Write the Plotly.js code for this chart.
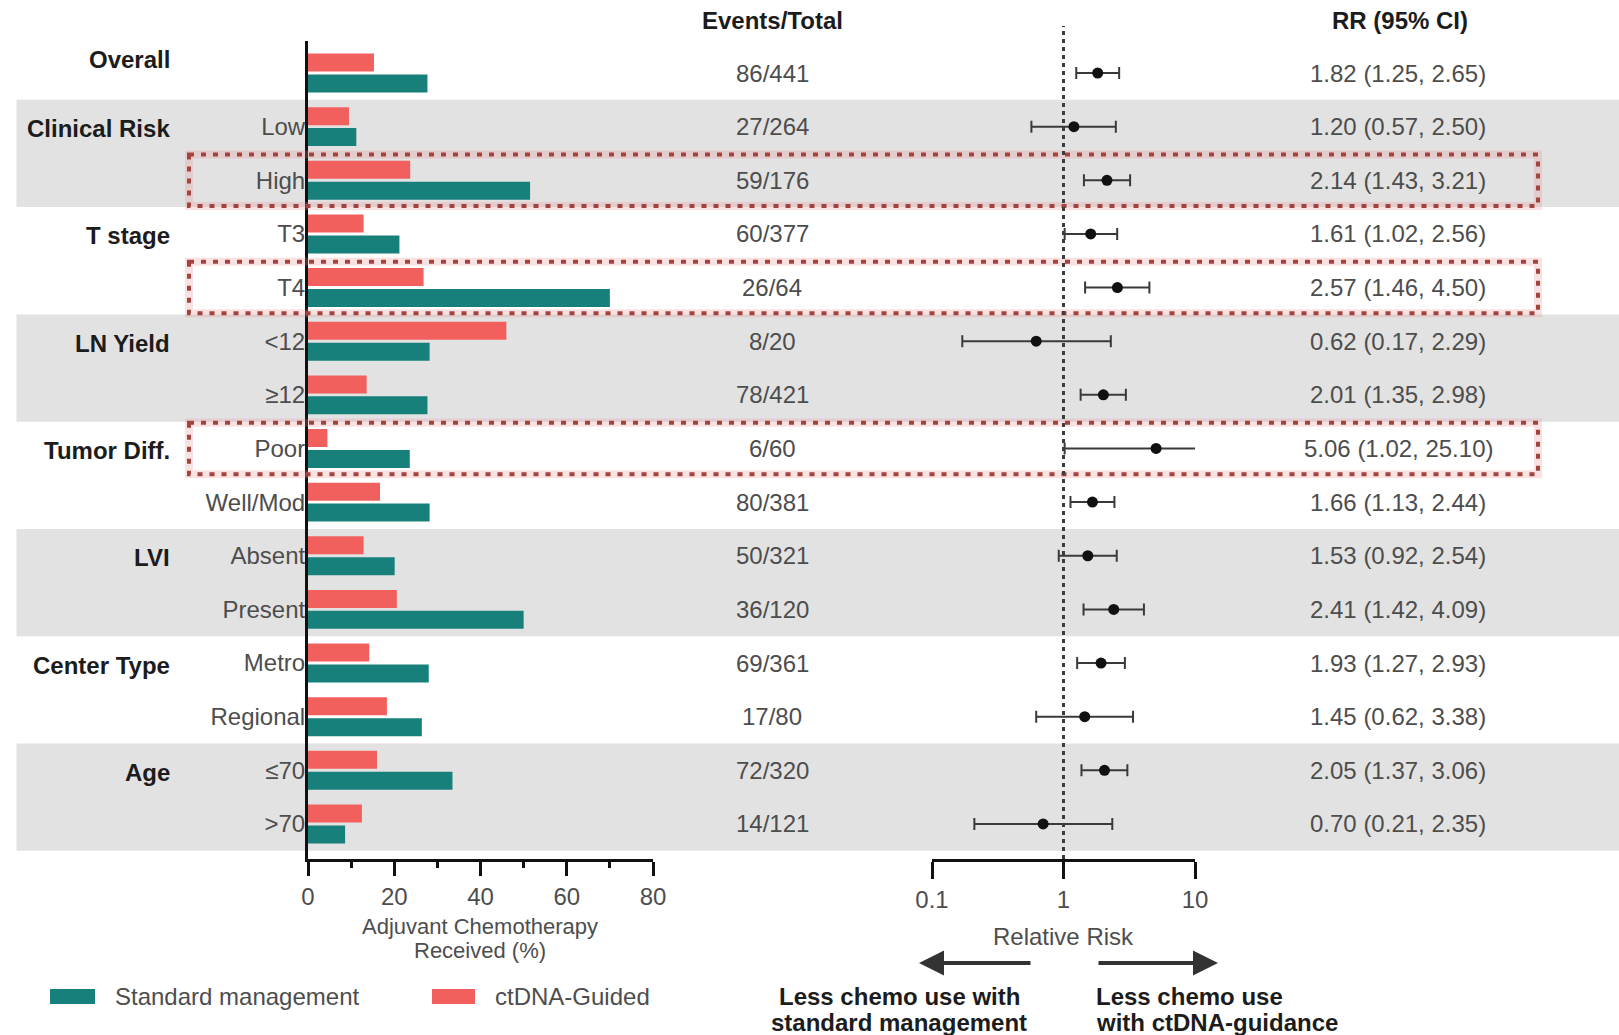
<!DOCTYPE html>
<html>
<head>
<meta charset="utf-8">
<script src="https://cdn.plot.ly/plotly-3.0.1.min.js"></script>
<style>
  html, body { margin: 0; padding: 0; background: #ffffff; }
  #chart { width: 1619px; height: 1035px; }
</style>
</head>
<body>
<div id="chart"></div>
<script>
// ---- data -------------------------------------------------------------
const subgroupLabels = ['', 'Low', 'High', 'T3', 'T4', '<12', '≥12', 'Poor', 'Well/Mod',
  'Absent', 'Present', 'Metro', 'Regional', '≤70', '>70'];
const groupLabels = ['Overall', 'Clinical Risk', 'T stage', 'LN Yield', 'Tumor Diff.', 'LVI', 'Center Type', 'Age'];
const groupFirstRow = [0, 1, 3, 5, 7, 9, 11, 13];
const shadedGroupRows = [1, 5, 9, 13];       // first row of each two-row grey band
const highlightedRows = [2, 4, 7];           // High, T4, Poor

// Adjuvant chemotherapy received (%)
const ctdnaGuidedPct = [15.3, 9.5, 23.7, 12.9, 26.8, 46.0, 13.6, 4.5, 16.7, 12.9, 20.6, 14.2, 18.3, 16.0, 12.5];
const standardMgmtPct = [27.7, 11.2, 51.5, 21.2, 70.0, 28.2, 27.7, 23.6, 28.2, 20.1, 50.0, 28.0, 26.4, 33.5, 8.6];

// Events / total
const events = [86, 27, 59, 60, 26, 8, 78, 6, 80, 50, 36, 69, 17, 72, 14];
const totals = [441, 264, 176, 377, 64, 20, 421, 60, 381, 321, 120, 361, 80, 320, 121];

// Relative risk with 95% CI
const rr     = [1.82, 1.20, 2.14, 1.61, 2.57, 0.62, 2.01, 5.06, 1.66, 1.53, 2.41, 1.93, 1.45, 2.05, 0.70];
const ciLow  = [1.25, 0.57, 1.43, 1.02, 1.46, 0.17, 1.35, 1.02, 1.13, 0.92, 1.42, 1.27, 0.62, 1.37, 0.21];
const ciHigh = [2.65, 2.50, 3.21, 2.56, 4.50, 2.29, 2.98, 25.10, 2.44, 2.54, 4.09, 2.93, 3.38, 3.06, 2.35];

const barTicks = [0, 20, 40, 60, 80];
const rrTicks = [0.1, 1, 10];
const rrTickText = ['0.1', '1', '10'];

// ---- layout helpers ---------------------------------------------------
const W = 1619, H = 1035;
const px = v => v / W;
const py = v => 1 - v / H;
const rows = subgroupLabels.map((_, i) => i);

const FONT = 'Liberation Sans, Arial, Helvetica, sans-serif';
const TXT = '#4d4d4d';
const BOLD = '#1c1c1c';
const TEAL = '#18807a';
const RED = '#f2605e';
const FS = 24;

// ---- traces -----------------------------------------------------------
const traces = [
  {
    type: 'bar', orientation: 'h', name: 'ctDNA-Guided',
    x: ctdnaGuidedPct, y: rows, xaxis: 'x', yaxis: 'y',
    marker: { color: RED, line: { width: 0 } }, hoverinfo: 'x'
  },
  {
    type: 'bar', orientation: 'h', name: 'Standard management',
    x: standardMgmtPct, y: rows, xaxis: 'x', yaxis: 'y',
    marker: { color: TEAL, line: { width: 0 } }, hoverinfo: 'x'
  },
  {
    type: 'scatter', mode: 'markers', name: 'RR',
    x: rr, y: rows, xaxis: 'x2', yaxis: 'y',
    marker: { color: '#111111', size: 11 },
    error_x: {
      type: 'data', symmetric: false,
      array: rr.map((v, i) => ciHigh[i] - v),
      arrayminus: rr.map((v, i) => v - ciLow[i]),
      color: '#3a3a3a', thickness: 2, width: 6
    },
    hoverinfo: 'x'
  }
];

// ---- shapes -----------------------------------------------------------
const shapes = [];
shadedGroupRows.forEach(r => {
  shapes.push({
    type: 'rect', layer: 'below', xref: 'paper', yref: 'y',
    x0: px(16.5), x1: 1, y0: r - 0.5, y1: r + 1.5,
    fillcolor: '#e2e2e2', line: { width: 0 }
  });
});
highlightedRows.forEach(r => {
  const box = { type: 'rect', layer: 'above', xref: 'paper', yref: 'y',
    x0: px(189), x1: px(1538), y0: r - 0.48, y1: r + 0.48, fillcolor: 'rgba(0,0,0,0)' };
  shapes.push(Object.assign({}, box, { line: { color: 'rgba(240,140,140,0.25)', width: 8 } }));
  shapes.push(Object.assign({}, box, { line: { color: '#a3433f', width: 4, dash: '5px,7px' } }));
});
// reference line at RR = 1
shapes.push({
  type: 'line', layer: 'above', xref: 'x2', yref: 'paper',
  x0: 1, x1: 1, y0: py(859), y1: py(26),
  line: { color: '#3c3c3c', width: 3, dash: '4px,4px' }
});
// legend swatches
shapes.push({ type: 'rect', xref: 'paper', yref: 'paper', x0: px(50), x1: px(95), y0: py(1004), y1: py(989),
  fillcolor: TEAL, line: { width: 0 } });
shapes.push({ type: 'rect', xref: 'paper', yref: 'paper', x0: px(432), x1: px(475), y0: py(1004), y1: py(989),
  fillcolor: RED, line: { width: 0 } });

// ---- annotations --------------------------------------------------------
const ann = [];
const txt = (text, x, y, opts) => Object.assign({
  text, x, y, xref: 'paper', yref: 'paper', showarrow: false,
  font: { family: FONT, size: FS, color: TXT }, xanchor: 'center', yanchor: 'middle'
}, opts || {});

ann.push(txt('<b>Events/Total</b>', px(772), py(21), { font: { family: FONT, size: FS, color: BOLD } }));
ann.push(txt('<b>RR (95% CI)</b>', px(1400), py(21), { font: { family: FONT, size: FS, color: BOLD } }));

rows.forEach(i => {
  ann.push(txt(events[i] + '/' + totals[i], px(772), i, { yref: 'y' }));
  ann.push(txt(rr[i].toFixed(2) + ' (' + ciLow[i].toFixed(2) + ', ' + ciHigh[i].toFixed(2) + ')',
    px(1398), i, { yref: 'y' }));
});

groupLabels.forEach((g, k) => {
  ann.push(txt('<b>' + g + '</b>', px(172), groupFirstRow[k], {
    yref: 'y', xanchor: 'right', yshift: k === 0 ? 14 : -2,
    font: { family: FONT, size: FS, color: BOLD }
  }));
});

// axis titles
ann.push(txt('Adjuvant Chemotherapy', px(480), py(926), { font: { family: FONT, size: 22, color: TXT } }));
ann.push(txt('Received (%)', px(480), py(950), { font: { family: FONT, size: 22, color: TXT } }));
ann.push(txt('Relative Risk', px(1063.5), py(936), { font: { family: FONT, size: FS, color: TXT } }));

// direction arrows
ann.push({ text: '', x: px(919), y: py(963), xref: 'paper', yref: 'paper', showarrow: true,
  ax: 113, ay: 0, arrowhead: 2, arrowsize: 1.25, arrowwidth: 4, arrowcolor: '#333333' });
ann.push({ text: '', x: px(1218), y: py(963), xref: 'paper', yref: 'paper', showarrow: true,
  ax: -121, ay: 0, arrowhead: 2, arrowsize: 1.25, arrowwidth: 4, arrowcolor: '#333333' });
ann.push(txt('<b>Less chemo use with</b>', px(899), py(996), { font: { family: FONT, size: FS, color: BOLD } }));
ann.push(txt('<b>standard management</b>', px(899), py(1022), { font: { family: FONT, size: FS, color: BOLD } }));
ann.push(txt('<b>Less chemo use</b>', px(1094), py(996), { xanchor: 'left', font: { family: FONT, size: FS, color: BOLD } }));
ann.push(txt('<b>with ctDNA-guidance</b>', px(1094), py(1022), { xanchor: 'left', font: { family: FONT, size: FS, color: BOLD } }));

// legend text
ann.push(txt('Standard management', px(113), py(996), { xanchor: 'left' }));
ann.push(txt('ctDNA-Guided', px(493), py(996), { xanchor: 'left' }));

// ---- layout -------------------------------------------------------------
const rowPx = 53.64, firstRowPx = 73, topPx = 41, bottomPx = 859;
const layout = {
  width: W, height: H,
  margin: { l: 0, r: 0, t: 0, b: 0, pad: 0 },
  paper_bgcolor: '#ffffff', plot_bgcolor: 'rgba(0,0,0,0)',
  showlegend: false,
  barmode: 'group', bargap: 0.22, bargroupgap: 0.14,
  font: { family: FONT, size: FS, color: TXT },
  xaxis: {
    domain: [px(308), px(653)], range: [0, 80], anchor: 'y',
    showgrid: false, zeroline: false,
    showline: true, linecolor: '#111111', linewidth: 3,
    tickmode: 'array', tickvals: barTicks, ticktext: barTicks.map(String),
    ticks: 'outside', ticklen: 14, tickwidth: 3, tickcolor: '#111111',
    minor: { ticks: 'outside', dtick: 10, ticklen: 6, tickwidth: 3, tickcolor: '#111111', showgrid: false },
    tickfont: { family: FONT, size: FS, color: TXT }, fixedrange: true
  },
  xaxis2: {
    domain: [px(932), px(1195)], type: 'log', range: [-1, 1], anchor: 'y',
    showgrid: false, zeroline: false,
    showline: true, linecolor: '#111111', linewidth: 3,
    tickmode: 'array', tickvals: rrTicks, ticktext: rrTickText,
    ticks: 'outside', ticklen: 17, tickwidth: 3, tickcolor: '#111111',
    tickfont: { family: FONT, size: FS, color: TXT }, fixedrange: true
  },
  yaxis: {
    domain: [py(bottomPx), py(topPx)],
    range: [14 + (bottomPx - (firstRowPx + 14 * rowPx)) / rowPx, -(firstRowPx - topPx) / rowPx],
    anchor: 'x',
    showgrid: false, zeroline: false,
    showline: true, linecolor: '#111111', linewidth: 3,
    tickmode: 'array', tickvals: rows, ticktext: subgroupLabels,
    ticks: '', ticklabelstandoff: -5,
    tickfont: { family: FONT, size: FS, color: TXT }, fixedrange: true
  },
  shapes: shapes,
  annotations: ann
};

Plotly.newPlot('chart', traces, layout, { displayModeBar: false, staticPlot: true });
</script>
</body>
</html>
